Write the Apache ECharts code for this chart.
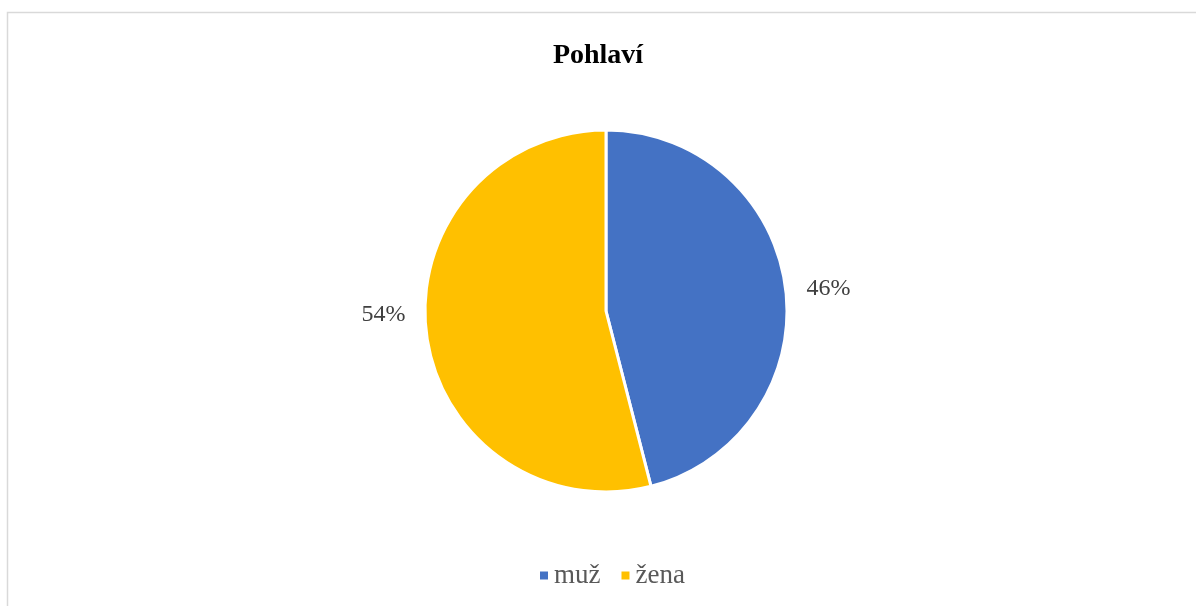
<!DOCTYPE html>
<html><head><meta charset="utf-8">
<script src="https://cdn.jsdelivr.net/npm/echarts@6/dist/echarts.min.js"></script>
<style>html,body{margin:0;padding:0;background:#fff}#c{width:1196px;height:606px}</style>
</head><body><div id="c"></div>
<script>
const title = 'Pohlaví';
const categories = ['muž', 'žena'];
const values = [46, 54];
const colors = ['#4472C4', '#FFC000'];

const chart = echarts.init(document.getElementById('c'), null, {renderer: 'canvas'});
chart.setOption({
  backgroundColor: '#fff',
  animation: false,
  title: {
    text: title, left: 'center', top: 37,
    textStyle: {fontFamily: 'Liberation Serif', fontWeight: 'bold', fontSize: 28, color: '#000'}
  },
  graphic: [{
    type: 'rect', shape: {x: 7.5, y: 12.5, width: 1200, height: 600},
    style: {fill: 'none', stroke: '#d9d9d9', lineWidth: 1.5}, silent: true, z: -1
  }],
  legend: {
    bottom: 12, left: 533, itemWidth: 10, itemHeight: 10, itemGap: 19,
    icon: 'rect',
    textStyle: {fontFamily: 'Liberation Serif', fontSize: 27, color: '#595959'},
    data: categories
  },
  series: [{
    type: 'pie', center: [606, 311], radius: 181, startAngle: 90, clockwise: true,
    itemStyle: {borderColor: '#fff', borderWidth: 3},
    label: {
      show: true, position: 'outside', formatter: '{d}%',
      fontFamily: 'Liberation Serif', fontSize: 24, color: '#404040'
    },
    labelLine: {show: false, length: 16, length2: 0},
    labelLayout: function (p) { return p.dataIndex === 1 ? {dy: -21} : {dy: 2}; },
    data: categories.map((c, i) => ({name: c, value: values[i], itemStyle: {color: colors[i]}}))
  }]
});
</script></body></html>
